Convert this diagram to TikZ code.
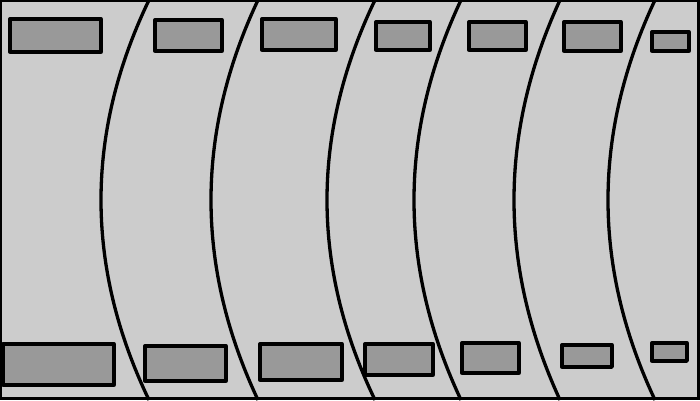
\documentclass[tikz,border=0pt]{standalone}
\usepackage{tikz}

\begin{document}
\begin{tikzpicture}[x=1pt, y=-1pt, line width=3.3pt,
    slot/.style={draw=black, fill=gray!80, line join=round}]
  \useasboundingbox (0,0) rectangle (700,400);

  % Background and frame
  \fill[gray!40] (0,0) rectangle (700,400);

  % Curved dividers (top end, middle point)
  \foreach \t/\m in {149/101, 258/211, 375/327, 461/414, 560/514, 655/608}
    \draw (\t,0) .. controls ({\t-4/3*(\t-\m)},133.3) and ({\t-4/3*(\t-\m)},266.7) .. (\t,400);

  % Top row of slots
  \foreach \xa/\ya/\xb/\yb in {10/19/101/52, 155/20/222/51, 262/19/336/50,
      376/22/430/50, 469/22/526/50, 564/22/621/51, 652/32/689/51}
    \draw[slot] (\xa,\ya) rectangle (\xb,\yb);

  % Bottom row of slots
  \foreach \xa/\ya/\xb/\yb in {3/344/114/385, 145/346/226/381, 260/344/342/380,
      365/344/433/375, 462/343/519/373, 562/345/612/367, 652/343/687/361}
    \draw[slot] (\xa,\ya) rectangle (\xb,\yb);

  \draw[line width=2.5pt] (1,1.2) rectangle (698.5,398.5);
\end{tikzpicture}
\end{document}
